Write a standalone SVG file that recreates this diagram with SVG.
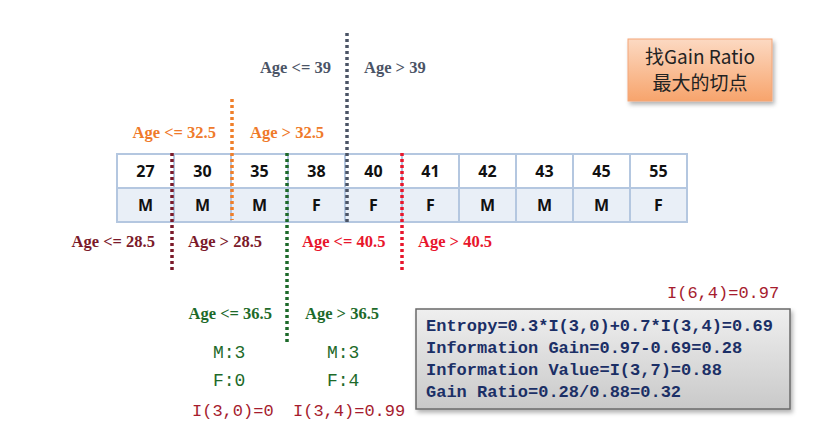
<svg xmlns="http://www.w3.org/2000/svg" width="829" height="431" viewBox="0 0 829 431">
<defs>
<linearGradient id="og" x1="0" y1="0" x2="0" y2="1"><stop offset="0" stop-color="#fcd9c2"/><stop offset="1" stop-color="#f7a46c"/></linearGradient>
<linearGradient id="gg" x1="0" y1="0" x2="0" y2="1"><stop offset="0" stop-color="#efefef"/><stop offset="1" stop-color="#c9c9c9"/></linearGradient>
<filter id="sh" x="-10%" y="-10%" width="130%" height="140%"><feDropShadow dx="2" dy="3" stdDeviation="2" flood-color="#000" flood-opacity="0.3"/></filter>
<style>
.cell1{fill:#ffffff;stroke:#b4c7e0;stroke-width:2}
.cell2{fill:#e9eff7;stroke:#b4c7e0;stroke-width:2}
.num{font-family:"Open Sans","Liberation Sans",sans-serif;font-weight:bold;font-size:16px;fill:#111;text-anchor:middle}
.lbl{font-family:"Liberation Serif",serif;font-weight:bold;font-size:16.5px}
.mono{font-family:"Liberation Mono",monospace;font-size:17px}
.cnt{font-family:"Liberation Mono",monospace;font-size:18px}
.dot{stroke-width:3.5;stroke-dasharray:3 3;fill:none}
</style>
</defs>
<g id="table">
<rect class="cell1" x="117" y="154" width="57" height="34"/><rect class="cell1" x="174" y="154" width="57" height="34"/><rect class="cell1" x="231" y="154" width="57" height="34"/><rect class="cell1" x="288" y="154" width="57" height="34"/><rect class="cell1" x="345" y="154" width="57" height="34"/><rect class="cell1" x="402" y="154" width="57" height="34"/><rect class="cell1" x="459" y="154" width="57" height="34"/><rect class="cell1" x="516" y="154" width="57" height="34"/><rect class="cell1" x="573" y="154" width="57" height="34"/><rect class="cell1" x="630" y="154" width="57" height="34"/>
<rect class="cell2" x="117" y="188" width="57" height="34"/><rect class="cell2" x="174" y="188" width="57" height="34"/><rect class="cell2" x="231" y="188" width="57" height="34"/><rect class="cell2" x="288" y="188" width="57" height="34"/><rect class="cell2" x="345" y="188" width="57" height="34"/><rect class="cell2" x="402" y="188" width="57" height="34"/><rect class="cell2" x="459" y="188" width="57" height="34"/><rect class="cell2" x="516" y="188" width="57" height="34"/><rect class="cell2" x="573" y="188" width="57" height="34"/><rect class="cell2" x="630" y="188" width="57" height="34"/>
<text class="num" x="145.5" y="177">27</text><text class="num" x="202.5" y="177">30</text><text class="num" x="259.5" y="177">35</text><text class="num" x="316.5" y="177">38</text><text class="num" x="373.5" y="177">40</text><text class="num" x="430.5" y="177">41</text><text class="num" x="487.5" y="177">42</text><text class="num" x="544.5" y="177">43</text><text class="num" x="601.5" y="177">45</text><text class="num" x="658.5" y="177">55</text>
<text class="num" x="145.5" y="211">M</text><text class="num" x="202.5" y="211">M</text><text class="num" x="259.5" y="211">M</text><text class="num" x="316.5" y="211">F</text><text class="num" x="373.5" y="211">F</text><text class="num" x="430.5" y="211">F</text><text class="num" x="487.5" y="211">M</text><text class="num" x="544.5" y="211">M</text><text class="num" x="601.5" y="211">M</text><text class="num" x="658.5" y="211">F</text>
</g>
<g id="connectors">
<line class="dot" stroke="#4b5466" x1="347" y1="33" x2="347" y2="222"/>
<line class="dot" stroke="#f07f2a" x1="232" y1="99" x2="232" y2="220"/>
<line class="dot" stroke="#7b1a2a" x1="172" y1="153" x2="172" y2="270"/>
<line class="dot" stroke="#1d6a2a" x1="287" y1="153" x2="287" y2="342"/>
<line class="dot" stroke="#e8162c" x1="402" y1="153" x2="402" y2="270"/>
</g>
<g id="labels">
<text class="lbl" fill="#4b5466" x="331" y="73" text-anchor="end">Age &lt;= 39</text>
<text class="lbl" fill="#4b5466" x="364" y="73">Age &gt; 39</text>
<text class="lbl" fill="#ef7a2a" x="216" y="138" text-anchor="end">Age &lt;= 32.5</text>
<text class="lbl" fill="#ef7a2a" x="250" y="138">Age &gt; 32.5</text>
<text class="lbl" fill="#7b1a2a" x="155" y="247" text-anchor="end">Age &lt;= 28.5</text>
<text class="lbl" fill="#7b1a2a" x="188" y="247">Age &gt; 28.5</text>
<text class="lbl" fill="#e8162c" x="302" y="247">Age &lt;= 40.5</text>
<text class="lbl" fill="#e8162c" x="418" y="247">Age &gt; 40.5</text>
<text class="lbl" fill="#1d6a2a" x="272" y="319" text-anchor="end">Age &lt;= 36.5</text>
<text class="lbl" fill="#1d6a2a" x="305" y="319">Age &gt; 36.5</text>
</g>
<g id="counts">
<text class="cnt" fill="#1d6a2a" x="213" y="358">M:3</text>
<text class="cnt" fill="#1d6a2a" x="213" y="386">F:0</text>
<text class="cnt" fill="#1d6a2a" x="327" y="358">M:3</text>
<text class="cnt" fill="#1d6a2a" x="327" y="386">F:4</text>
<text class="mono" fill="#a61c2e" x="192" y="416">I(3,0)=0</text>
<text class="mono" fill="#a61c2e" x="293" y="416">I(3,4)=0.99</text>
<text class="mono" fill="#a61c2e" x="667" y="298">I(6,4)=0.97</text>
</g>
<g id="calc">
<rect x="416" y="309" width="374" height="100" fill="url(#gg)" stroke="#6a6a6a" stroke-width="1.5" filter="url(#sh)"/>
<text class="mono" fill="#1b2f66" font-weight="bold" x="426" y="331">Entropy=0.3*I(3,0)+0.7*I(3,4)=0.69</text>
<text class="mono" fill="#1b2f66" font-weight="bold" x="426" y="353">Information Gain=0.97-0.69=0.28</text>
<text class="mono" fill="#1b2f66" font-weight="bold" x="426" y="375">Information Value=I(3,7)=0.88</text>
<text class="mono" fill="#1b2f66" font-weight="bold" x="426" y="397">Gain Ratio=0.28/0.88=0.32</text>
</g>
<g id="note">
<rect x="628" y="39" width="144" height="62" fill="url(#og)" stroke="#f3a678" stroke-width="1" filter="url(#sh)"/>
<text font-family="'Noto Sans CJK SC',sans-serif" font-size="19" fill="#222" text-anchor="middle" x="700" y="64">找Gain Ratio</text>
<text font-family="'Noto Sans CJK SC',sans-serif" font-size="19" fill="#222" text-anchor="middle" x="700" y="90">最大的切点</text>
</g>
</svg>
